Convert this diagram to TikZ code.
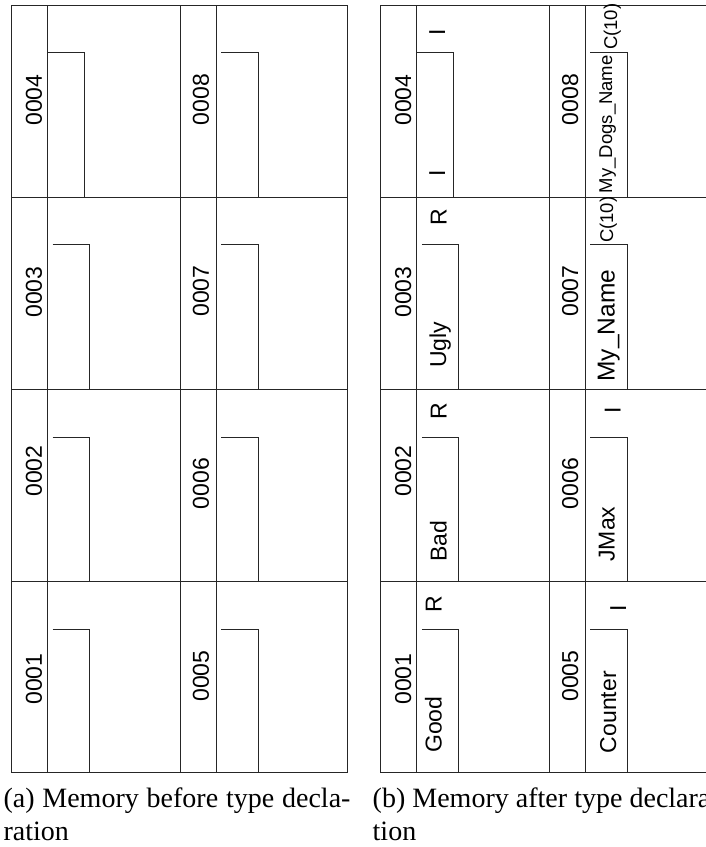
\documentclass[tikz,border=0pt]{standalone}
\usepackage{fontspec}
\setmainfont{Liberation Serif}
\newfontfamily\cellsans{Liberation Sans}

\begin{document}
\begin{tikzpicture}[x=1pt, y=-1pt,
    cellline/.style={line width=0.9pt, draw=black!85},
    addr/.style={rotate=90, inner sep=0pt, font=\cellsans\fontsize{23}{27}\selectfont},
    vname/.style={rotate=90, anchor=base west, inner sep=0pt, font=\cellsans\fontsize{23}{27}\selectfont},
    vtype/.style={rotate=90, anchor=base, inner sep=0pt, font=\cellsans\fontsize{23}{27}\selectfont},
    vsmall/.style={vname, font=\cellsans\fontsize{18.5}{22}\selectfont},
    capt/.style={anchor=north west, inner sep=0pt, text width=347pt, align=justify,
                 font=\fontsize{28}{33}\selectfont},
  ]
  \useasboundingbox (0,0) rectangle (706,847);
  \clip (0,0) rectangle (706,847);

  % both memory grids, (b) is (a) moved right
  \foreach \p/\dx in {a/0, b/369.2}{
    \begin{scope}[xshift=\dx pt]
      \draw[cellline] (11.5,5) rectangle (347,772);
      \draw[cellline] (47.7,5) -- (47.7,772);
      \draw[cellline] (180,5) -- (180,772);
      \draw[cellline] (216,5) -- (216,772);
      \draw[cellline] (11.5,197) -- (347,197);
      \draw[cellline] (11.5,389) -- (347,389);
      \draw[cellline] (11.5,581) -- (347,581);

      % type boxes
      \draw[cellline] (47.7,52) -- (84,52) -- (84,197);
      \draw[cellline] (52.7,244) -- (89,244) -- (89,389);
      \draw[cellline] (52.7,437) -- (89,437) -- (89,581);
      \draw[cellline] (52.7,629) -- (89,629) -- (89,772);
      \draw[cellline] (221,52) -- (258,52) -- (258,197);
      \draw[cellline] (221,244) -- (258,244) -- (258,389);
      \draw[cellline] (221,437) -- (258,437) -- (258,581);
      \draw[cellline] (221,629) -- (258,629) -- (258,772);

      \node[addr] (\p0004) at (34,100)    {0004};
      \node[addr] (\p0003) at (34,292)    {0003};
      \node[addr] (\p0002) at (34,471)    {0002};
      \node[addr] (\p0001) at (34,679)    {0001};
      \node[addr] (\p0008) at (201,99.5)  {0008};
      \node[addr] (\p0007) at (201,291)   {0007};
      \node[addr] (\p0006) at (201,483.5) {0006};
      \node[addr] (\p0005) at (201,676)   {0005};
    \end{scope}
  }

  % (b): names and types
  \node[vtype] (tI4) at (445,32)      {I};
  \node[vname, anchor=base] (nI4) at (445,173.3) {I};
  \node[vtype] (tR3) at (446.7,217.5) {R};
  \node[vname] (nUgly) at (446,368)   {Ugly};
  \node[vtype] (tR2) at (446.7,411.5) {R};
  \node[vname] (nBad) at (446.7,562)  {Bad};
  \node[vtype] (tR1) at (441.7,604.5) {R};
  \node[vname] (nGood) at (441.7,753) {Good};

  \node[vsmall] (tC8) at (617,50)      {C(10)};
  \node[vsmall] (nDogs) at (612,193.3) {My\_Dogs\_Name};
  \node[vsmall] (tC7) at (613,243)     {C(10)};
  \node[vname, font=\cellsans\fontsize{24.5}{28}\selectfont] (nMyName) at (614.5,381.7) {My\_Name};
  \node[vtype] (tI6) at (620.7,410.7)  {I};
  \node[vname] (nJMax) at (614.5,561.7) {JMax};
  \node[vtype] (tI5) at (626,608.3)    {I};
  \node[vname] (nCounter) at (616,753.3) {Counter};

  % captions
  \node[capt] (capa) at (3.3,788)   {(a) Memory before type decla-\linebreak ration};
  \node[capt] (capb) at (372.5,788) {(b) Memory after type declara-\linebreak tion};
\end{tikzpicture}
\end{document}
